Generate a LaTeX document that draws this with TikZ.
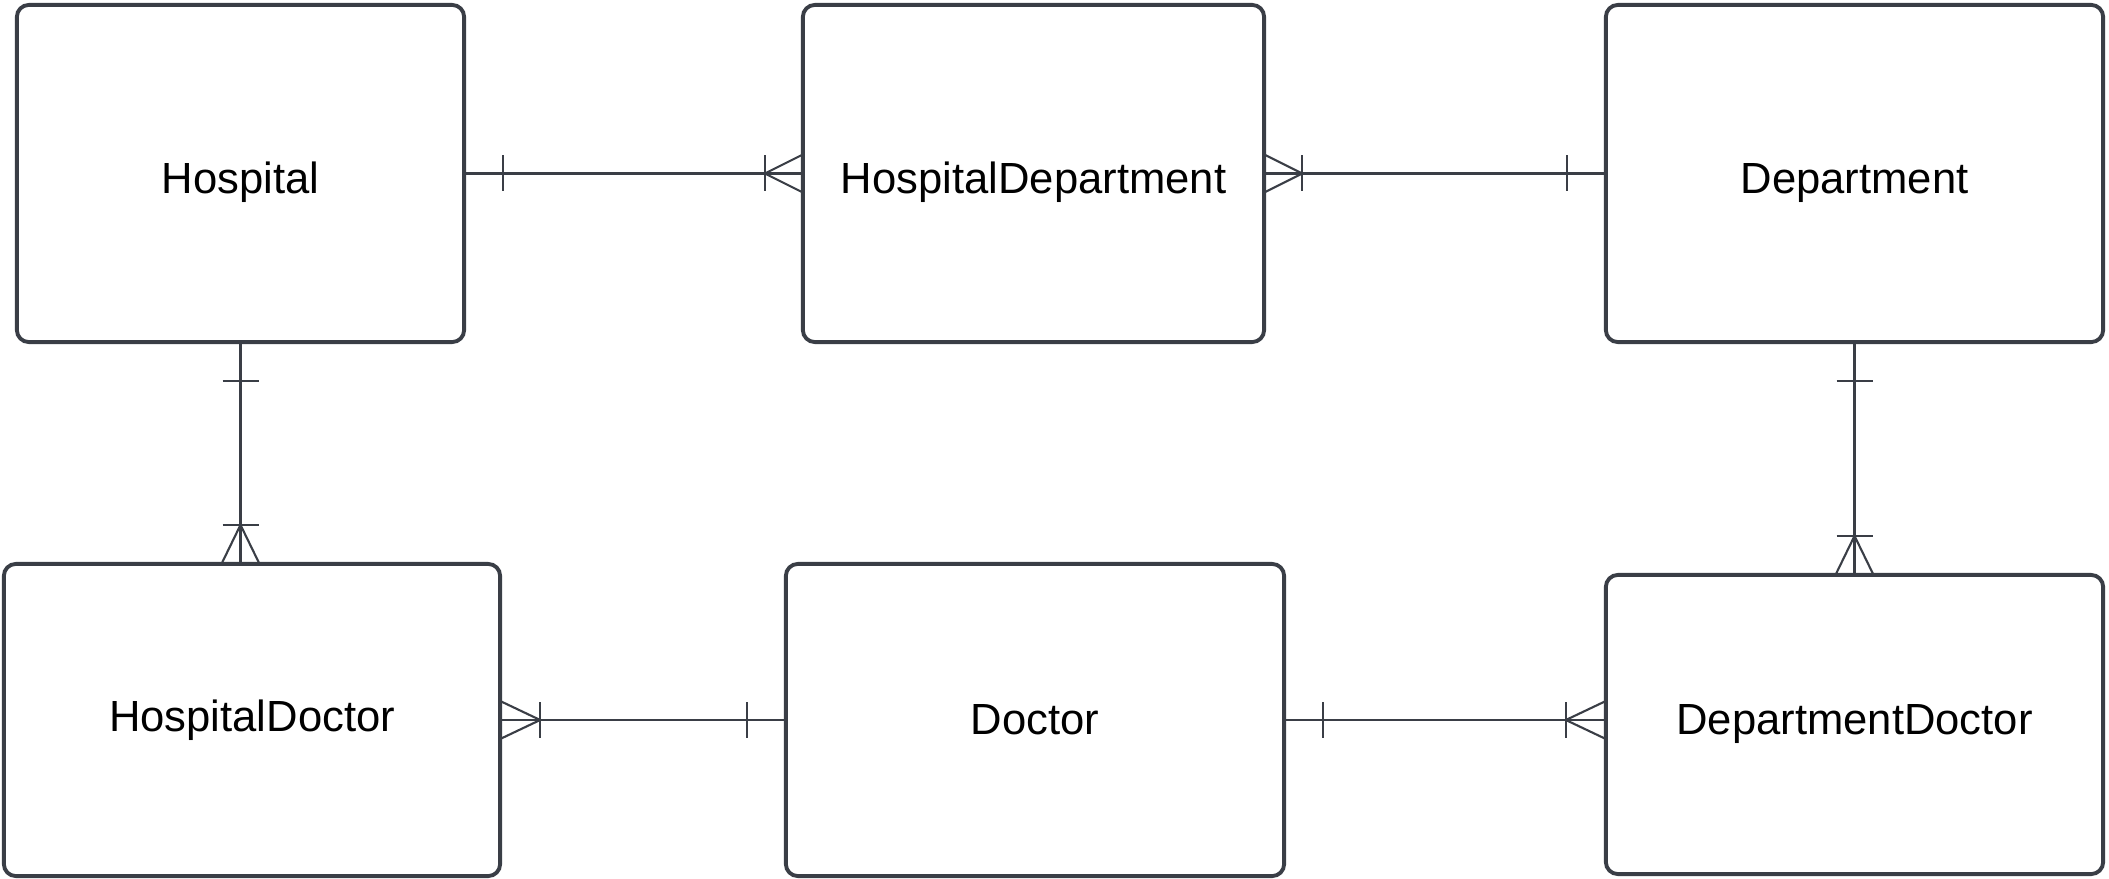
\documentclass[tikz,border=0pt]{standalone}
\usepackage{fontspec}
\setmainfont{Liberation Sans}
\usetikzlibrary{calc}
\definecolor{linegray}{RGB}{58,62,70}

\tikzset{
    entity/.style={draw=linegray, line width=1.1pt, rounded corners=0.12cm,
        inner sep=0pt, outer sep=0pt, font=\fontsize{12.4}{15}\selectfont},
    toprow/.style={text height=0.4cm, text depth=0pt},
    link/.style={draw=linegray, line width=0.6pt}
}

\begin{document}
\begin{tikzpicture}[x=0.01cm, y=-0.01cm]
    \useasboundingbox (0,0) rectangle (2109,879);

    % entities
    \node[entity, toprow, minimum width=4.47cm, minimum height=3.37cm] (hosp) at (240.5,173.5) {Hospital};
    \node[entity, toprow, minimum width=4.61cm, minimum height=3.37cm] (hdept) at (1033.5,173.5) {HospitalDepartment};
    \node[entity, toprow, minimum width=4.97cm, minimum height=3.37cm] (dept) at (1854.5,173.5) {Department};
    \node[entity, minimum width=4.96cm, minimum height=3.12cm] (hdoc) at (252,720) {HospitalDoctor};
    \node[entity, minimum width=4.98cm, minimum height=3.12cm] (doc) at (1035,720) {Doctor};
    \node[entity, minimum width=4.97cm, minimum height=2.99cm] (ddoc) at (1854.5,724.5) {DepartmentDoctor};

    % Hospital -- HospitalDepartment
    \draw[link] (hosp.east) -- (hdept.west);
    \draw[link] ($(hosp.east)+(39,-18)$) -- ++(0,36);
    \draw[link] ($(hdept.west)+(-38,-18)$) -- ++(0,36);
    \draw[link] ($(hdept.west)+(0,-19)$) -- ($(hdept.west)+(-38,0)$) -- ($(hdept.west)+(0,19)$);

    % HospitalDepartment -- Department
    \draw[link] (hdept.east) -- (dept.west);
    \draw[link] ($(dept.west)+(-39,-18)$) -- ++(0,36);
    \draw[link] ($(hdept.east)+(38,-18)$) -- ++(0,36);
    \draw[link] ($(hdept.east)+(0,-19)$) -- ($(hdept.east)+(38,0)$) -- ($(hdept.east)+(0,19)$);

    % Hospital -- HospitalDoctor
    \coordinate (hdoctop) at (hosp.south |- hdoc.north);
    \draw[link] (hosp.south) -- (hdoctop);
    \draw[link] ($(hosp.south)+(-18,39)$) -- ++(36,0);
    \draw[link] ($(hdoctop)+(-18,-39)$) -- ++(36,0);
    \draw[link] ($(hdoctop)+(-19,0)$) -- ($(hdoctop)+(0,-39)$) -- ($(hdoctop)+(19,0)$);

    % Department -- DepartmentDoctor
    \draw[link] (dept.south) -- (ddoc.north);
    \draw[link] ($(dept.south)+(-18,39)$) -- ++(36,0);
    \draw[link] ($(ddoc.north)+(-18,-39)$) -- ++(36,0);
    \draw[link] ($(ddoc.north)+(-19,0)$) -- ($(ddoc.north)+(0,-39)$) -- ($(ddoc.north)+(19,0)$);

    % HospitalDoctor -- Doctor
    \draw[link] (hdoc.east) -- (doc.west);
    \draw[link] ($(doc.west)+(-39,-18)$) -- ++(0,36);
    \draw[link] ($(hdoc.east)+(40,-18)$) -- ++(0,36);
    \draw[link] ($(hdoc.east)+(0,-19)$) -- ($(hdoc.east)+(40,0)$) -- ($(hdoc.east)+(0,19)$);

    % Doctor -- DepartmentDoctor
    \coordinate (ddocleft) at (doc.east -| ddoc.west);
    \draw[link] (doc.east) -- (ddocleft);
    \draw[link] ($(doc.east)+(39,-18)$) -- ++(0,36);
    \draw[link] ($(ddocleft)+(-40,-18)$) -- ++(0,36);
    \draw[link] ($(ddocleft)+(0,-19)$) -- ($(ddocleft)+(-40,0)$) -- ($(ddocleft)+(0,19)$);
\end{tikzpicture}
\end{document}
